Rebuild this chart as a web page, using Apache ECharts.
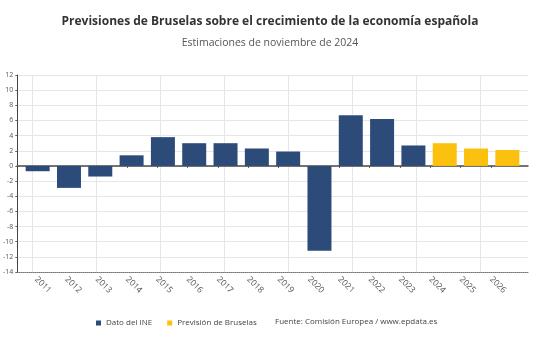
<!DOCTYPE html>
<html>
<head>
<meta charset="utf-8">
<script src="https://cdn.jsdelivr.net/npm/echarts@6/dist/echarts.min.js"></script>
<style>
  html, body { margin: 0; padding: 0; background: #ffffff; }
  #chart { width: 540px; height: 340px; }
</style>
</head>
<body>
<div id="chart"></div>
<script>
// Crecimiento anual del PIB de España (%)
const years = ['2011', '2012', '2013', '2014', '2015', '2016', '2017', '2018',
               '2019', '2020', '2021', '2022', '2023', '2024', '2025', '2026'];
// Datos observados del INE (2011-2023)
const ineValues = [-0.7, -2.9, -1.4, 1.4, 3.8, 3.0, 3.0, 2.3,
                   1.9, -11.2, 6.7, 6.2, 2.7, null, null, null];
// Previsión de la Comisión Europea (2024-2026)
const forecastValues = [null, null, null, null, null, null, null, null,
                        null, null, null, null, null, 3.0, 2.3, 2.1];
const yTicks = { min: -14, max: 12, step: 2 };

const BLUE = '#2d4b79';
const YELLOW = '#fcc10f';
const FONT = '"Open Sans", "Noto Sans", sans-serif';

const plotTop = 75;
const plotBottom = 68;

const hiddenValueAxis = (gridIndex) => ({
  type: 'value', gridIndex, min: yTicks.min, max: yTicks.max, interval: yTicks.step,
  show: false, splitLine: { show: false }
});

const chart = echarts.init(document.getElementById('chart'), null, { renderer: 'canvas' });

chart.setOption({
  backgroundColor: '#ffffff',
  animation: false,
  textStyle: { fontFamily: FONT },
  title: [
    {
      text: 'Previsiones de Bruselas sobre el crecimiento de la economía española',
      subtext: 'Estimaciones de noviembre de 2024',
      left: 'center', top: 11, itemGap: 10,
      textStyle: { fontFamily: FONT, fontSize: 12, fontWeight: 'bold', color: '#333333' },
      subtextStyle: { fontFamily: FONT, fontSize: 10.5, color: '#555555' }
    },
    {
      text: 'Fuente: Comisión Europea / www.epdata.es',
      left: 270, top: 313,
      textStyle: { fontFamily: FONT, fontSize: 8, fontWeight: 'normal', color: '#444444' }
    }
  ],
  legend: {
    left: 91, top: 314,
    icon: 'rect', itemWidth: 5, itemHeight: 5, itemGap: 15,
    textStyle: { fontFamily: FONT, fontSize: 8, color: '#444444' },
    data: ['Dato del INE', 'Previsión de Bruselas']
  },
  grid: [
    // value axis, horizontal gridlines, zero line
    { left: 16, right: 12, top: plotTop, bottom: plotBottom },
    // bars
    { left: 22, right: 17, top: plotTop, bottom: plotBottom },
    // vertical gridlines
    { left: 32, right: 28, top: plotTop, bottom: plotBottom },
    // year labels
    { left: 36, right: 49, top: plotTop, bottom: plotBottom }
  ],
  yAxis: [
    {
      type: 'value', gridIndex: 0,
      min: yTicks.min, max: yTicks.max, interval: yTicks.step,
      axisLine: { show: true, lineStyle: { color: '#444444', width: 1 } },
      axisTick: { show: true, length: 2, lineStyle: { color: '#666666' } },
      axisLabel: { fontFamily: FONT, fontSize: 7, color: '#555555', margin: 4 },
      splitLine: { show: true, lineStyle: { color: '#e4e6ec', width: 1 } }
    },
    hiddenValueAxis(1),
    hiddenValueAxis(2),
    hiddenValueAxis(3)
  ],
  xAxis: [
    {
      type: 'category', gridIndex: 0, data: [''],
      axisLine: { show: true, onZero: true, lineStyle: { color: '#4a4a4a', width: 1.5 } },
      axisTick: { show: false }, axisLabel: { show: false }, splitLine: { show: false }
    },
    {
      type: 'category', gridIndex: 0, data: [''], position: 'bottom',
      axisLine: { show: true, onZero: false, lineStyle: { color: '#777777', width: 1, type: 'dotted' } },
      axisTick: { show: false }, axisLabel: { show: false }, splitLine: { show: false }
    },
    {
      type: 'category', gridIndex: 1, data: years, show: false
    },
    {
      type: 'category', gridIndex: 2, data: years, boundaryGap: false,
      axisLine: { show: false }, axisTick: { show: false }, axisLabel: { show: false },
      splitLine: { show: true, lineStyle: { color: '#e4e6ec', width: 1 } }
    },
    {
      type: 'category', gridIndex: 3, data: years, boundaryGap: false,
      axisLine: { show: false },
      axisTick: { show: true, length: 2, lineStyle: { color: '#555555' } },
      axisLabel: { fontFamily: FONT, fontSize: 8.5, color: '#555555', rotate: -45, margin: 6, interval: 0 },
      splitLine: { show: false }
    }
  ],
  series: [
    {
      name: 'Dato del INE', type: 'bar', stack: 'pib',
      xAxisIndex: 2, yAxisIndex: 1,
      barWidth: 24, data: ineValues,
      itemStyle: { color: BLUE }
    },
    {
      name: 'Previsión de Bruselas', type: 'bar', stack: 'pib',
      xAxisIndex: 2, yAxisIndex: 1,
      barWidth: 24, data: forecastValues,
      itemStyle: { color: YELLOW }
    }
  ]
});
</script>
</body>
</html>
